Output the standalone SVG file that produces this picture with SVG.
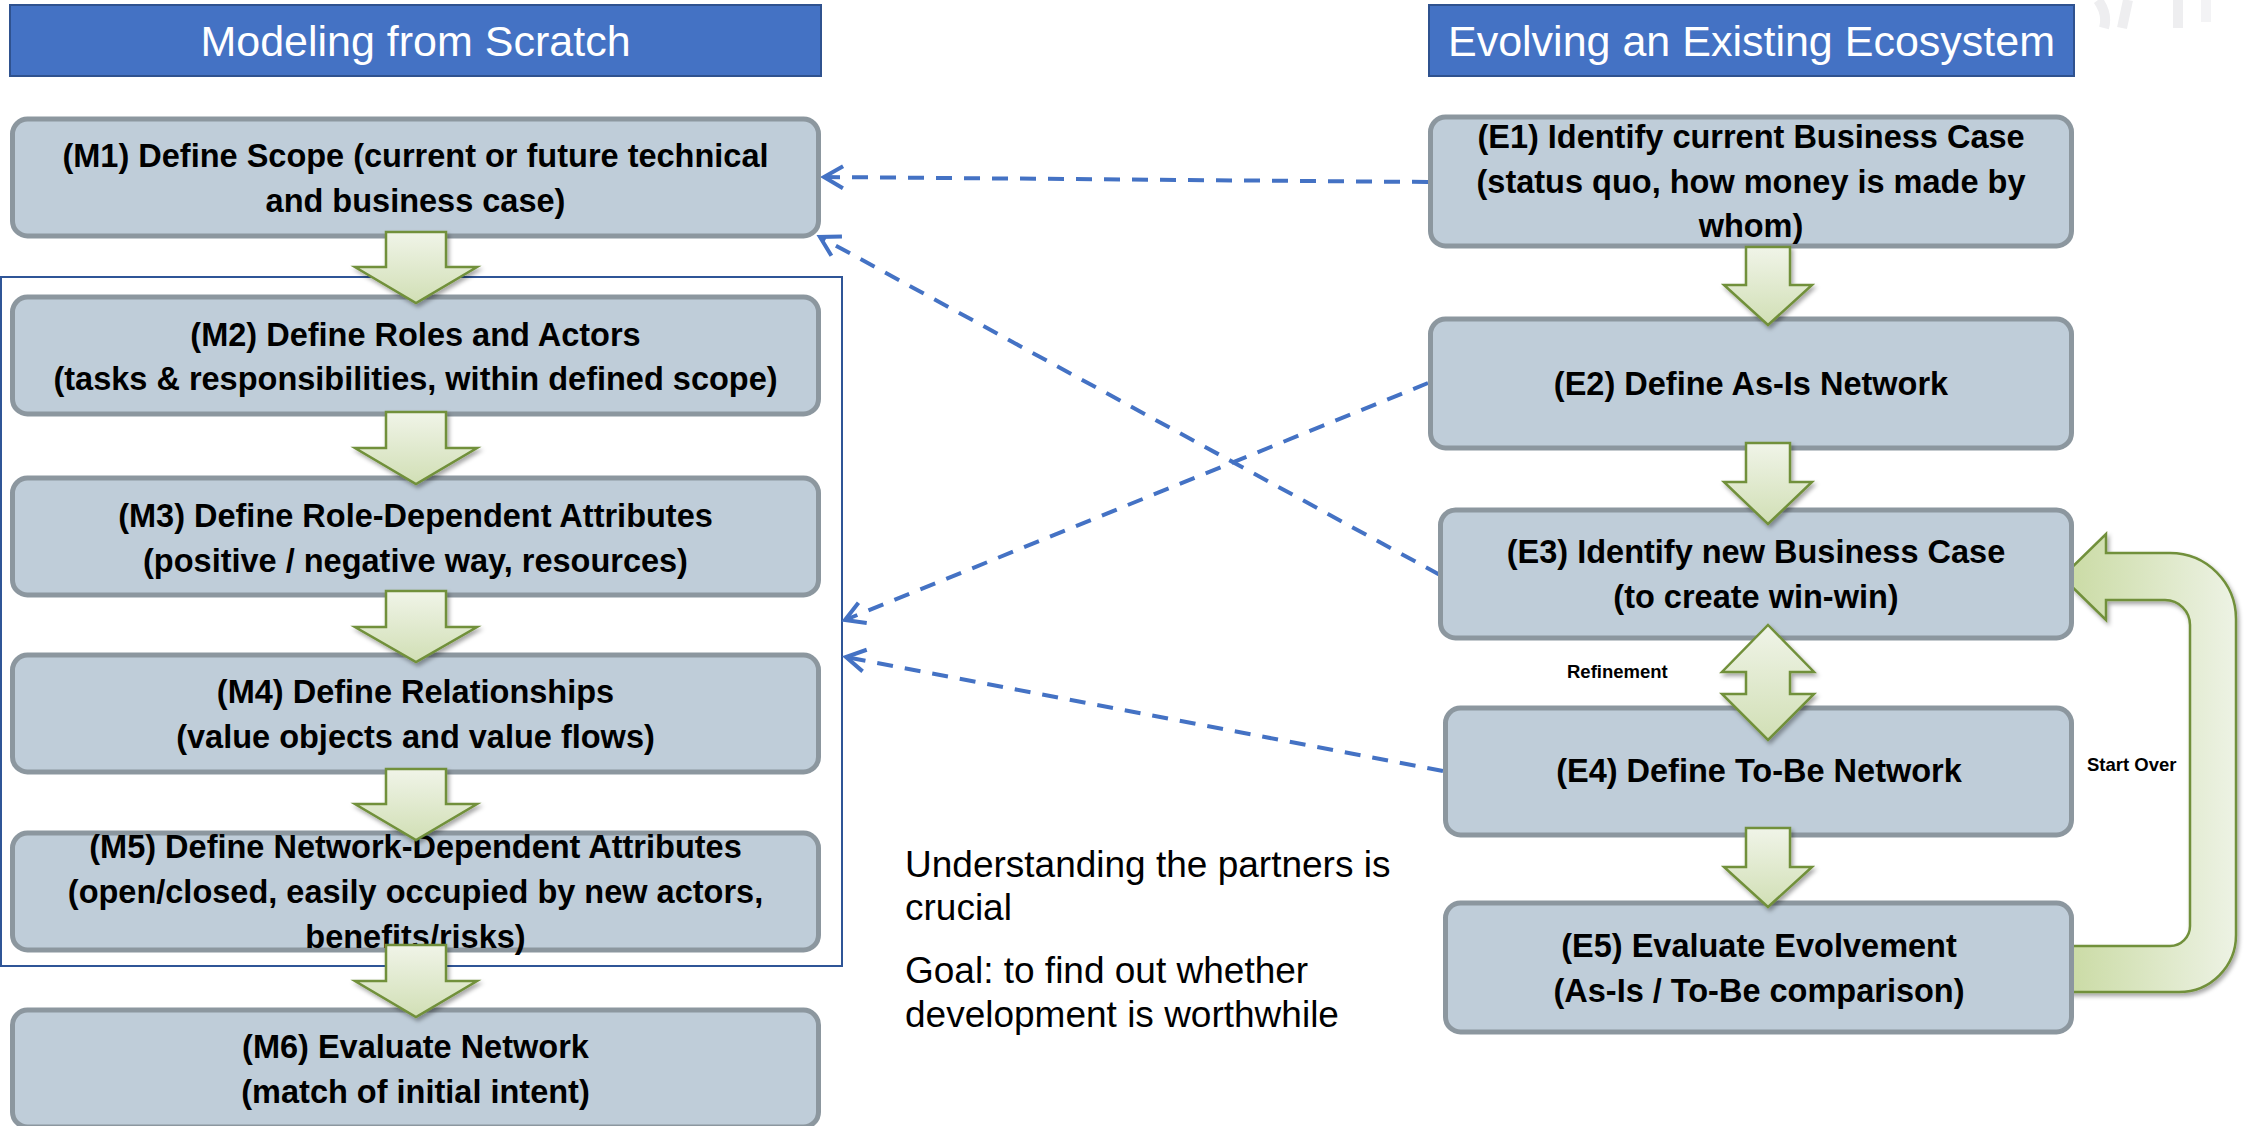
<svg xmlns="http://www.w3.org/2000/svg" width="2244" height="1126" viewBox="0 0 2244 1126">
<style>
.hdr rect{fill:#4472C4;stroke:#2F528F;stroke-width:2}
.hdr text{fill:#FFFFFF;font-family:"Liberation Sans",Arial,sans-serif;font-size:43px;text-anchor:middle}
.node rect{fill:#BFCDD9;stroke:#8C979F;stroke-width:5}
.node text{fill:#000;font-family:"Liberation Sans",Arial,sans-serif;font-weight:bold;font-size:32.5px;text-anchor:middle}
.blk{fill:url(#gv);stroke:#71903A;stroke-width:2.5;stroke-linejoin:miter;filter:url(#sh)}
.dash{fill:none;stroke:#4472C4;stroke-width:4;stroke-dasharray:16 12;marker-end:url(#open)}
.lbl{fill:#000;font-family:"Liberation Sans",Arial,sans-serif;font-weight:bold;font-size:18.5px}
.note{fill:#000;font-family:"Liberation Sans",Arial,sans-serif;font-size:37px}
</style>
<defs>
<linearGradient id="gv" x1="0" y1="0" x2="0" y2="1">
<stop offset="0" stop-color="#F0F4E8"/>
<stop offset="1" stop-color="#D1DFB5"/>
</linearGradient>
<linearGradient id="gh" gradientUnits="userSpaceOnUse" x1="2062" y1="0" x2="2240" y2="0">
<stop offset="0" stop-color="#C9DAA2"/>
<stop offset="1" stop-color="#EEF3E6"/>
</linearGradient>
<filter id="sh" x="-20%" y="-20%" width="150%" height="150%">
<feDropShadow dx="2" dy="3" stdDeviation="2" flood-color="#000" flood-opacity="0.35"/>
</filter>
<marker id="open" markerUnits="userSpaceOnUse" viewBox="-26 -16 32 32" markerWidth="32" markerHeight="32" refX="0" refY="0" orient="auto">
<path d="M-19,-11 L0,0 L-19,11" fill="none" stroke="#4472C4" stroke-width="4"/>
</marker>
</defs>
<rect width="2244" height="1126" fill="#FFFFFF"/>

<g id="watermark" fill="none" stroke="#EEEEF0" stroke-width="10">
<path d="M2098,0 Q2108,14 2104,28"/>
<path d="M2128,0 L2122,28"/>
<path d="M2178,0 L2178,28"/>
<path d="M2206,0 L2206,22" stroke="#F3F3F5"/>
</g>

<g id="hdr-left" class="hdr">
<rect x="10" y="5" width="811" height="71"/>
<text x="415.5" y="56">Modeling from Scratch</text>
</g>
<g id="hdr-right" class="hdr">
<rect x="1429" y="5" width="645" height="71"/>
<text x="1751.5" y="56">Evolving an Existing Ecosystem</text>
</g>

<g id="group-frame">
<rect x="1" y="277" width="841" height="689" fill="none" stroke="#2F5597" stroke-width="2"/>
</g>

<g id="connectors">
<path id="start-over" d="M2060,992 L2179,992 A57,57 0 0 0 2236,935 L2236,619 A66,66 0 0 0 2170,553 L2106,553 L2106,534 L2062,577 L2106,620 L2106,600 L2165,600 A25,25 0 0 1 2190,625 L2190,926 A20,20 0 0 1 2170,946 L2060,946 Z" fill="url(#gh)" stroke="#71903A" stroke-width="2.5" filter="url(#sh)"/>
<line class="dash" x1="1428" y1="182" x2="824" y2="177"/>
<line class="dash" x1="1440" y1="575" x2="820" y2="237"/>
<line class="dash" x1="1428" y1="383" x2="845" y2="620"/>
<line class="dash" x1="1443" y1="771" x2="846" y2="657"/>
</g>

<g id="M1" class="node">
<rect x="12.5" y="119" width="806" height="117" rx="15"/>
<text x="415.5" y="167">(M1) Define Scope (current or future technical</text>
<text x="415.5" y="212">and business case)</text>
</g>
<g id="M2" class="node">
<rect x="12.5" y="297" width="806" height="117" rx="15"/>
<text x="415.5" y="346">(M2) Define Roles and Actors</text>
<text x="415.5" y="390">(tasks &amp; responsibilities, within defined scope)</text>
</g>
<g id="M3" class="node">
<rect x="12.5" y="478" width="806" height="117" rx="15"/>
<text x="415.5" y="527">(M3) Define Role-Dependent Attributes</text>
<text x="415.5" y="572">(positive / negative way, resources)</text>
</g>
<g id="M4" class="node">
<rect x="12.5" y="655" width="806" height="117" rx="15"/>
<text x="415.5" y="703">(M4) Define Relationships</text>
<text x="415.5" y="748">(value objects and value flows)</text>
</g>
<g id="M5" class="node">
<rect x="12.5" y="833" width="806" height="117" rx="15"/>
<text x="415.5" y="858">(M5) Define Network-Dependent Attributes</text>
<text x="415.5" y="903">(open/closed, easily occupied by new actors,</text>
<text x="415.5" y="948">benefits/risks)</text>
</g>
<g id="M6" class="node">
<rect x="12.5" y="1010" width="806" height="117" rx="15"/>
<text x="415.5" y="1058">(M6) Evaluate Network</text>
<text x="415.5" y="1103">(match of initial intent)</text>
</g>

<g id="E1" class="node">
<rect x="1430.5" y="117" width="641" height="129" rx="15"/>
<text x="1751" y="148">(E1) Identify current Business Case</text>
<text x="1751" y="193">(status quo, how money is made by</text>
<text x="1751" y="237">whom)</text>
</g>
<g id="E2" class="node">
<rect x="1430.5" y="319" width="641" height="129" rx="15"/>
<text x="1751" y="395">(E2) Define As-Is Network</text>
</g>
<g id="E3" class="node">
<rect x="1440.5" y="510" width="631" height="128" rx="15"/>
<text x="1756" y="563">(E3) Identify new Business Case</text>
<text x="1756" y="608">(to create win-win)</text>
</g>
<g id="E4" class="node">
<rect x="1445.5" y="708" width="626" height="127" rx="15"/>
<text x="1759" y="782">(E4) Define To-Be Network</text>
</g>
<g id="E5" class="node">
<rect x="1445.5" y="903" width="626" height="129" rx="15"/>
<text x="1759" y="957">(E5) Evaluate Evolvement</text>
<text x="1759" y="1002">(As-Is / To-Be comparison)</text>
</g>

<g id="flow-arrows">
<path class="blk" d="M386,232 H446 V267 H477 L416,303 L355,267 H386 Z"/>
<path class="blk" d="M386,412 H446 V448 H477 L416,484 L355,448 H386 Z"/>
<path class="blk" d="M386,591 H446 V627 H477 L416,662 L355,627 H386 Z"/>
<path class="blk" d="M386,769 H446 V804 H477 L416,840 L355,804 H386 Z"/>
<path class="blk" d="M386,945 H446 V981 H477 L416,1017 L355,981 H386 Z"/>
<path class="blk" d="M1746,247 H1790 V285 H1812 L1768,325 L1724,285 H1746 Z"/>
<path class="blk" d="M1746,443 H1790 V482 H1812 L1768,524 L1724,482 H1746 Z"/>
<path class="blk" d="M1768,625 L1814,672 H1790 V694 H1814 L1768,740 L1722,694 H1746 V672 H1722 Z"/>
<path class="blk" d="M1746,828 H1790 V867 H1812 L1768,907 L1724,867 H1746 Z"/>
</g>

<g id="labels">
<text class="lbl" x="1567" y="678">Refinement</text>
<text class="lbl" x="2087" y="771">Start Over</text>
</g>

<g id="notes">
<text class="note" x="905" y="877">Understanding the partners is</text>
<text class="note" x="905" y="920">crucial</text>
<text class="note" x="905" y="983">Goal: to find out whether</text>
<text class="note" x="905" y="1027">development is worthwhile</text>
</g>
</svg>
